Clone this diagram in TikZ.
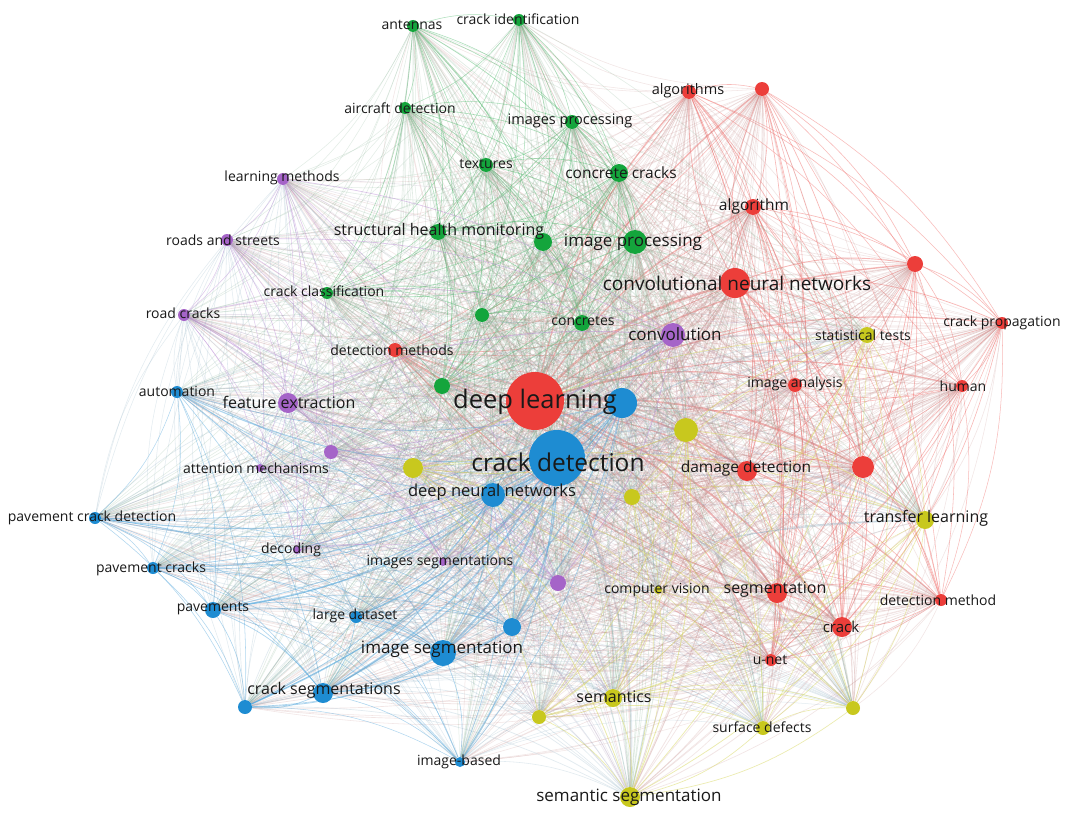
\documentclass[tikz,border=0pt]{standalone}
\usepackage{fontspec}
\setmainfont{Open Sans}
\definecolor{c1}{RGB}{236,62,58}
\definecolor{c2}{RGB}{20,165,60}
\definecolor{c3}{RGB}{30,140,210}
\definecolor{c4}{RGB}{165,100,200}
\definecolor{c5}{RGB}{200,200,30}
\definecolor{txt}{RGB}{25,25,25}
\pgfdeclarelayer{paper}
\pgfdeclarelayer{edges}
\pgfsetlayers{paper,edges,main}
\tikzset{
  vn/.style={circle, inner sep=0pt, draw=none},
  lbl/.style={inner sep=0pt, text=txt},
}
\def\nodelist{dl/535/401/29/1,cnn/735/283/15/1,algs/689/92/7/1,rA/762/89/7/1,alg/753/207/8/1,rB/915/264/8/1,cprop/1002/323/6/1,human/962/386/6/1,ianal/795/385/7/1,dmg/747/471/10/1,rC/863/467/11/1,seg/777/593/10/1,detm/941/600/6/1,crack/842/627/10/1,unet/771/660/6/1,detms/395/350/7/1,ant/413/26/6/2,cid/519/20/6/2,air/405/108/6/2,imgsp/572/122/7/2,tex/486/165/7/2,ccr/619/173/9/2,shm/438/232/8/2,gA/543/242/9/2,ip/635/242/12/2,ccl/327/293/6/2,gB/482/315/7/2,conc/582/323/8/2,gC/442/386/8/2,cd/557/458/28/3,bA/622/403/15/3,dnn/493/495/12/3,auto/177/392/6/3,pcd/95/518/6/3,pcr/153/568/6/3,pav/213/610/8/3,ld/356/617/6/3,bB/512/627/9/3,iseg/443/653/13/3,cseg/323/693/10/3,bC/245/707/7/3,ib/460/762/5/3,lm/283/179/6/4,rs/227/240/6/4,rc/184/315/6/4,fe/288/403/10/4,conv/673/335/12/4,pA/331/452/7/4,att/260/468/4/4,dec/297/550/4/4,iss/443/562/4/4,pB/558/583/8/4,yA/686/430/12/5,yB/413/468/10/5,yC/632/497/8/5,stat/867/335/8/5,tl/925/520/9/5,cv/658/590/4/5,sem/613/698/9/5,yD/539/717/7/5,sdef/763/728/7/5,yE/853/708/7/5,ss/630/797/10/5}
\def\labellist{dl/535/402/25.5/deep learning,cd/558/462/24.5/crack detection,cnn/737/283/19/convolutional neural networks,ip/633/242/17/image processing,shm/439/231/16/structural health monitoring,iseg/442/649/17/image segmentation,ss/629/797/17/semantic segmentation,dnn/492/492/16.5/deep neural networks,fe/289/402/16/feature extraction,conv/675/334/17/convolution,cseg/324/690/16/crack segmentations,dmg/746/468/15.5/damage detection,tl/926/518/16/transfer learning,seg/775/590/16/segmentation,sem/614/697/16/semantics,ccr/621/173/15.5/concrete cracks,alg/754/206/15.5/algorithm,algs/688/91/14.5/algorithms,imgsp/570/121/14.5/images processing,cprop/1002/323/14/crack propagation,ant/412/25/14/antennas,cid/518/19/14/crack identification,air/400/108/14/aircraft detection,tex/486/164/14/textures,lm/282/178/14/learning methods,rs/223/240/14/roads and streets,rc/183/313/14/road cracks,ccl/324/291/14/crack classification,conc/583/321/14/concretes,detms/392/350/14/detection methods,stat/863/335/14/statistical tests,ianal/795/384/14/image analysis,human/963/386/14/human,auto/177/391/14/automation,att/256/468/14/attention mechanisms,pcd/92/518/14/pavement crack detection,dec/291/550/14/decoding,pcr/151/569/14/pavement cracks,pav/213/609/14/pavements,ld/355/616/14/large dataset,iss/440/562/14/images segmentations,cv/657/590/14/computer vision,ib/459/762/14/image-based,detm/938/600/14/detection method,crack/841/627/15/crack,unet/770/660/14/u-net,sdef/762/727/14/surface defects}
\begin{document}
\begin{tikzpicture}[x=1pt,y=-1pt]
\useasboundingbox (0,0) rectangle (1065,816);
\begin{pgfonlayer}{paper}
\fill[white] (0,0) rectangle (1065,816);
\end{pgfonlayer}
% circles
\foreach \n/\x/\y/\r/\c in \nodelist {
  \pgfmathsetmacro\dd{2*\r}
  \node[vn, fill=c\c, minimum size=\dd pt] (\n) at (\x,\y) {};
}
% links
\begin{pgfonlayer}{edges}
\foreach \a/\xa/\ya/\ra/\ca [count=\i] in \nodelist {
  \foreach \b/\xb/\yb/\rb/\cb [count=\j] in \nodelist {
    \ifnum\j>\i
      \pgfmathsetmacro\lw{0.35+\ra*\rb/220}
      \ifnum\ca=\cb
        \draw[draw=c\ca!75!white, opacity=0.48, line width=\lw pt] (\a) to[bend left=14] (\b);
      \else
        \draw[draw=c\ca!45!gray!75!white, opacity=0.22, line width=\lw pt] (\a) to[bend left=14] (\b);
      \fi
    \fi
  }
}
\end{pgfonlayer}
% labels
\foreach \n/\x/\y/\s/\t in \labellist {
  \node[lbl, font=\fontsize{\s}{\s}\selectfont] (t\n) at (\x,\y) {\t};
}
\end{tikzpicture}
\end{document}
